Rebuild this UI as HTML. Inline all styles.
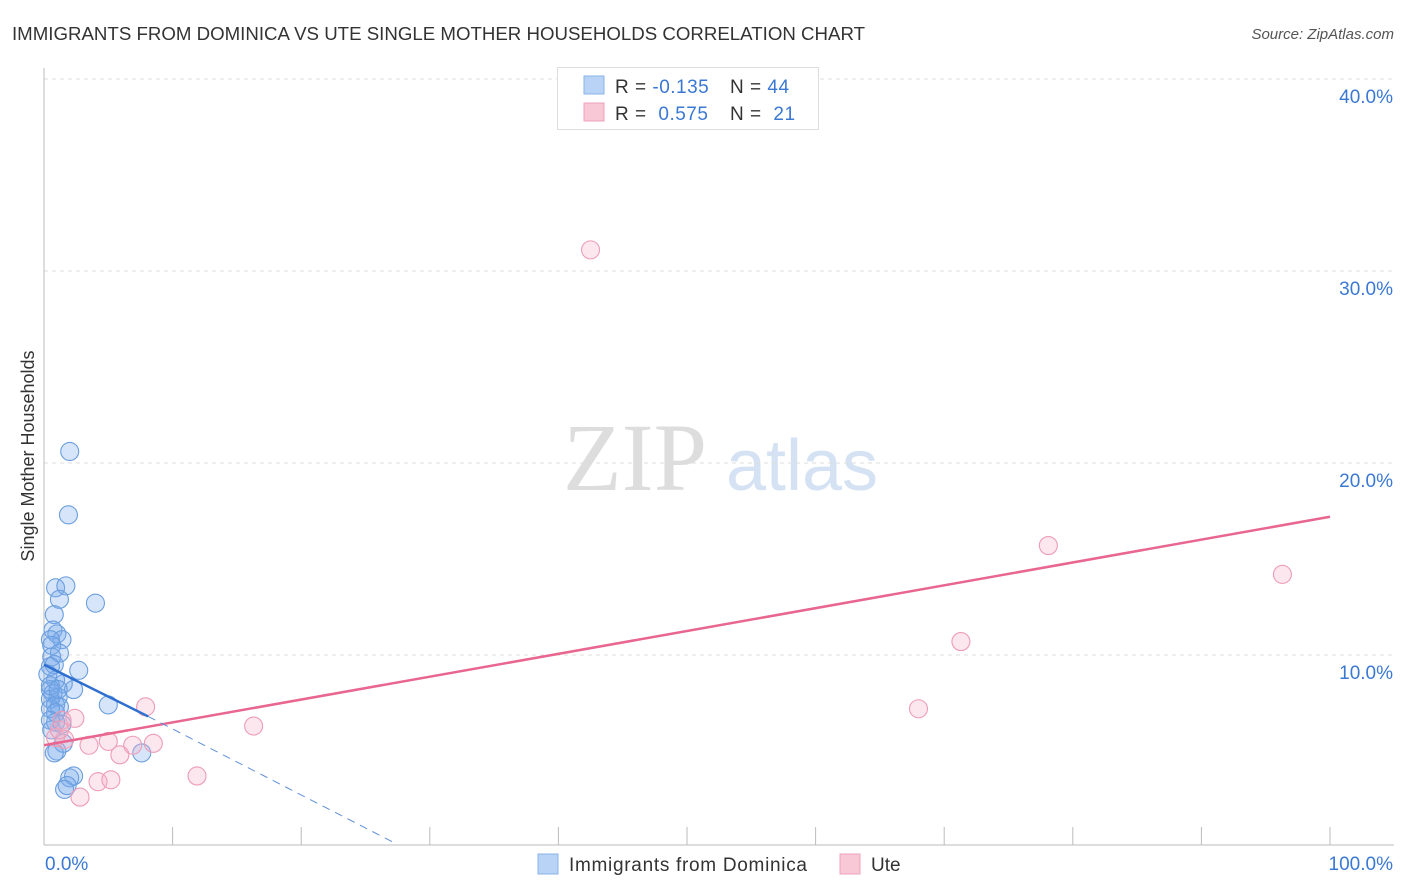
<!DOCTYPE html>
<html><head><meta charset="utf-8"><style>
body{margin:0;background:#fff;font-family:"Liberation Sans",sans-serif;}
svg{display:block}
</style></head><body>
<svg id="chart" width="1406" height="892">
<text x="12" y="40" font-size="18" fill="#333" textLength="853" lengthAdjust="spacingAndGlyphs">IMMIGRANTS FROM DOMINICA VS UTE SINGLE MOTHER HOUSEHOLDS CORRELATION CHART</text>
<text x="1394" y="39" font-size="15" fill="#555" font-style="italic" text-anchor="end">Source: ZipAtlas.com</text>
<text x="34" y="456" font-size="18" fill="#333" text-anchor="middle" transform="rotate(-90 34 456)">Single Mother Households</text>
<g>
<text x="635" y="490" font-size="96" fill="#ddd" font-family="Liberation Serif" text-anchor="middle">ZIP</text>
<text x="802" y="490" font-size="72" fill="#d4e2f4" text-anchor="middle">atlas</text>
</g>
<g id="grid"></g><g id="axes"></g><g id="marks"></g>
<g>
<rect x="557.5" y="67.5" width="261" height="62" fill="#fff" stroke="#ddd"/>
<rect x="584" y="76" width="20" height="18" fill="#b8d3f5" stroke="#8ab4e8"/>
<rect x="584" y="103" width="20" height="18" fill="#f9c8d6" stroke="#eda0b8"/>
<text x="615" y="93" font-size="19" fill="#333" letter-spacing="0.5">R = <tspan fill="#3a78d4">-0.135</tspan></text>
<text x="730" y="93" font-size="19" fill="#333" letter-spacing="0.5">N = <tspan fill="#3a78d4">44</tspan></text>
<text x="615" y="120" font-size="19" fill="#333" letter-spacing="0.5">R = <tspan fill="#3a78d4" dx="6">0.575</tspan></text>
<text x="730" y="120" font-size="19" fill="#333" letter-spacing="0.5">N = <tspan fill="#3a78d4" dx="6">21</tspan></text>
</g>
<g>
<rect x="538" y="854" width="20" height="20" fill="#b8d3f5" stroke="#8ab4e8"/>
<text x="569" y="871" font-size="19" fill="#333" textLength="238">Immigrants from Dominica</text>
<rect x="840" y="854" width="20" height="20" fill="#f9c8d6" stroke="#eda0b8"/>
<text x="871" y="871" font-size="19" fill="#333">Ute</text>
</g>
</svg>
<script>
const yTicks=[10,20,30,40];
const yTickLabels=["10.0%","20.0%","30.0%","40.0%"];
const xTicks=[0,10,20,30,40,50,60,70,80,90,100];
const blueX=[2.0,1.9,0.9,1.7,1.2,4.0,0.8,0.7,1.0,1.4,0.5,0.6,1.2,0.6,0.8,2.7,0.5,1.5,2.3,0.9,0.5,0.7,1.1,0.5,5.0,0.9,1.2,0.5,0.9,0.9,1.4,1.5,1.0,0.8,7.6,2.3,2.0,1.8,1.6,0.5,0.6,0.3,0.5,1.1];
const blueY=[20.6,17.3,13.5,13.6,12.9,12.7,12.1,11.3,11.1,10.8,10.8,10.5,10.1,9.9,9.5,9.2,9.4,8.5,8.2,8.7,8.2,8.0,7.8,7.7,7.4,7.4,7.3,7.2,7.0,6.5,6.4,5.4,5.0,4.9,4.9,3.7,3.6,3.2,3.0,6.6,6.1,9.0,8.4,8.2];
const pinkX=[42.5,78.1,96.3,71.3,68.0,16.3,7.9,2.4,1.4,0.9,1.6,3.5,5.0,6.9,8.5,5.9,4.2,5.2,11.9,2.8,1.2];
const pinkY=[31.1,15.7,14.2,10.7,7.2,6.3,7.3,6.7,6.6,5.7,5.6,5.3,5.5,5.3,5.4,4.8,3.4,3.5,3.7,2.6,6.1];
const blueTrend=[[0,9.5],[8.1,6.8]];
const blueTrendExt=[[8.1,6.8],[27.3,0.2]];
const pinkTrend=[[0,5.3],[100,17.2]];
const NS="http://www.w3.org/2000/svg";
const sx=v=>44+v*12.86, sy=v=>847-v*19.2;
function mk(tag,attrs,parent){const e=document.createElementNS(NS,tag);for(const k in attrs)e.setAttribute(k,attrs[k]);document.getElementById(parent).appendChild(e);return e;}
yTicks.forEach((t,i)=>{
 const l=mk('line',{x1:44,x2:1394,y1:sy(t),y2:sy(t),stroke:'#ddd','stroke-dasharray':'4,4'},'grid');
 
 
 const tx=mk('text',{x:1393,y:sy(t)+24,'font-size':19,fill:'#3a78d4','text-anchor':'end'},'grid');
 tx.textContent=yTickLabels[i];
 
 
});
let a=mk('line',{x1:44,x2:44,y1:68,y2:845,stroke:'#bbb'},'axes');


a=mk('line',{x1:44,x2:1394,y1:845,y2:845,stroke:'#bbb'},'axes');


xTicks.forEach(t=>{
 const l=mk('line',{x1:sx(t),x2:sx(t),y1:827,y2:845,stroke:'#bbb'},'axes');
 
 
});
let t=mk('text',{x:45,y:870,'font-size':19,fill:'#3a78d4'},'axes');t.textContent='0.0%';


t=mk('text',{x:1393,y:870,'font-size':19,fill:'#3a78d4','text-anchor':'end'},'axes');t.textContent='100.0%';


blueX.forEach((x,i)=>{
 const c=mk('circle',{cx:sx(x),cy:sy(blueY[i]),r:9,fill:'rgba(120,170,235,0.3)',stroke:'#6a9ede','stroke-width':1.1},'marks');
 
 
});
pinkX.forEach((x,i)=>{
 const c=mk('circle',{cx:sx(x),cy:sy(pinkY[i]),r:9,fill:'rgba(245,175,198,0.3)',stroke:'#ee9cb6','stroke-width':1.1},'marks');
 
 
});
let tl=mk('line',{x1:sx(pinkTrend[0][0]),y1:sy(pinkTrend[0][1]),x2:sx(pinkTrend[1][0]),y2:sy(pinkTrend[1][1]),stroke:'#e8668f','stroke-width':2.5},'marks');


tl=mk('line',{x1:sx(blueTrend[0][0]),y1:sy(blueTrend[0][1]),x2:sx(blueTrend[1][0]),y2:sy(blueTrend[1][1]),stroke:'#2f6fd0','stroke-width':2.5},'marks');


tl=mk('line',{x1:sx(blueTrendExt[0][0]),y1:sy(blueTrendExt[0][1]),x2:sx(blueTrendExt[1][0]),y2:sy(blueTrendExt[1][1]),stroke:'#5f8fd8','stroke-width':1,'stroke-dasharray':'8,6'},'marks');


</script>
</body></html>
